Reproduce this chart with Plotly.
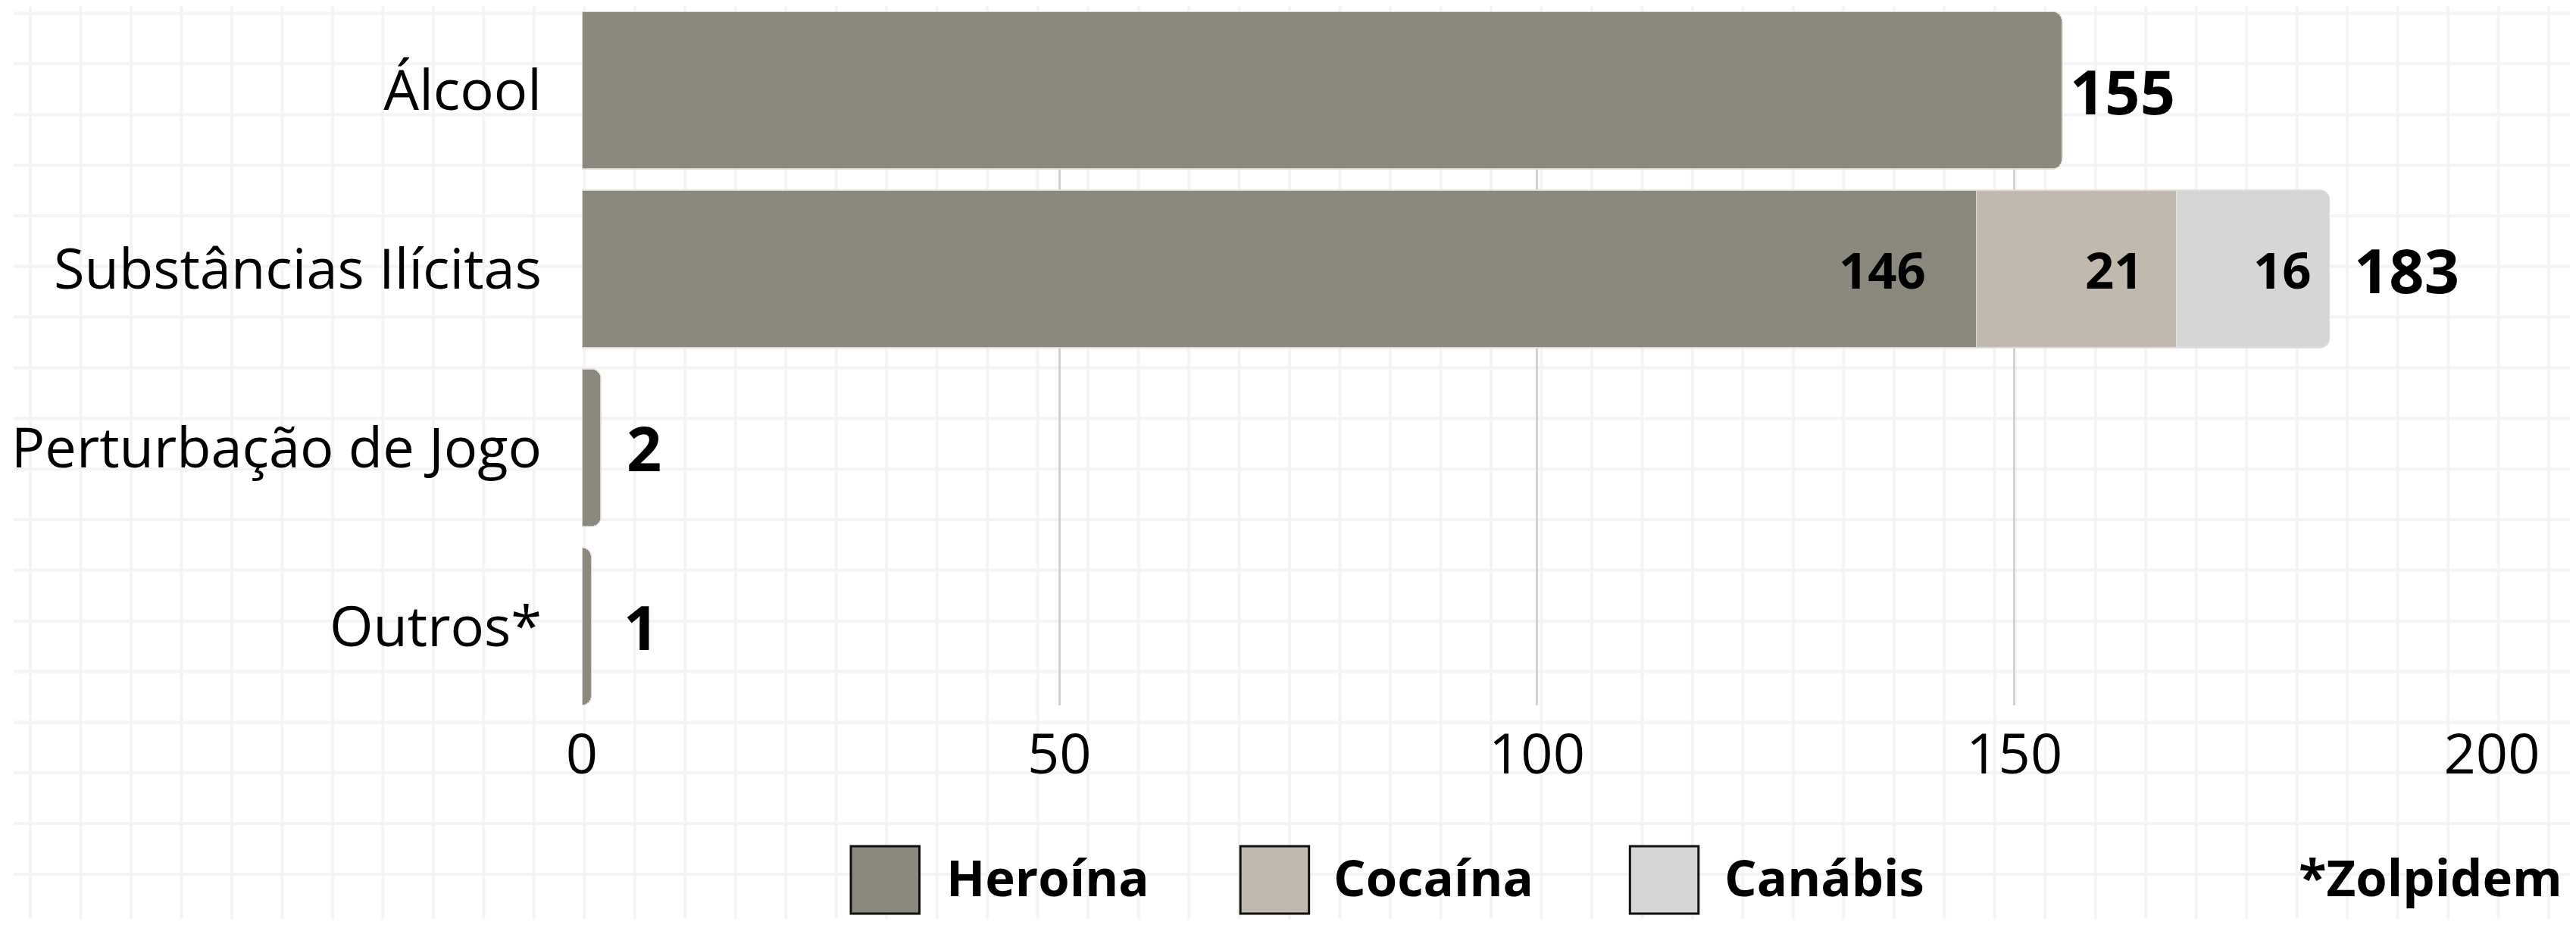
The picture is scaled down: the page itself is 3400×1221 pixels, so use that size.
import plotly.graph_objects as go

# ---------------- data ----------------
categories = ["Álcool", "Substâncias Ilícitas", "Perturbação de Jogo", "Outros*"]
heroina = [155, 146, 2, 1]        # first segment (dark)
cocaina = [None, 21, None, None]
canabis = [None, 16, None, None]
totals = [155, 183, 2, 1]
x_ticks = [0, 50, 100, 150, 200]
legend_names = ["Heroína", "Cocaína", "Canábis"]
footnote = "*Zolpidem"

# ---------------- styles ----------------
C_HER = "#8B897D"
C_COC = "#C1B9AE"
C_CAN = "#D6D6D6"
FONT = "Open Sans"
OFF = 8                      # browser body margin
W, H = 3400 - 2 * OFF, 1221 - 2 * OFF
L = 754 - OFF
T = 15 - OFF
R = W - (3289 - OFF)
B = H - (931 - OFF)
PW, PH = W - L - R, H - T - B

fig = go.Figure()
for name, vals, col in [("Heroína", heroina, C_HER), ("Cocaína", cocaina, C_COC), ("Canábis", canabis, C_CAN)]:
    fig.add_trace(go.Bar(
        y=categories, x=vals, orientation="h", name=name,
        marker=dict(color=col, line=dict(color="rgba(225,223,218,0.9)", width=1.5)),
        showlegend=False, hoverinfo="skip",
    ))

# segment labels inside the stacked bar
seg_vals = [heroina[1], cocaina[1], canabis[1]]
seg_shift = [-64, -42, -22]
cum = 0
for v, sh in zip(seg_vals, seg_shift):
    cum += v
    fig.add_annotation(x=cum, y=categories[1], text=f"<b>{v}</b>", showarrow=False,
                       xanchor="right", xshift=sh, yanchor="middle",
                       font=dict(family=FONT, size=67, color="#000"))

# totals outside
tot_shift = [8, 30, 32, 40]
for c, t, sh in zip(categories, totals, tot_shift):
    fig.add_annotation(x=t, y=c, text=f"<b>{t}</b>", showarrow=False,
                       xanchor="left", xshift=sh, yanchor="middle",
                       font=dict(family=FONT, size=81, color="#000"))

# ---------------- background paper grid (page pixel coords) ----------------
def px2x(px):
    return (px - OFF - L) / PW

def py2y(py):
    return 1 - (py - OFF - T) / PH

shapes = []
step = 66.85
k = 0
while 22 + k * step < 3400:
    xv = px2x(22 + k * step)
    shapes.append(dict(type="line", xref="paper", yref="paper", x0=xv, x1=xv,
                       y0=py2y(0), y1=py2y(1221), line=dict(color="#f4f4f4", width=4), layer="below"))
    k += 1
k = 0
while 17.5 + k * step < 1221:
    yv = py2y(17.5 + k * step)
    shapes.append(dict(type="line", xref="paper", yref="paper", x0=px2x(0), x1=px2x(3400),
                       y0=yv, y1=yv, line=dict(color="#f4f4f4", width=4), layer="below"))
    k += 1

# ---------------- manual legend ----------------
leg_box_x = [1111, 1628, 2145]
leg_text_x = [1236, 1750, 2268]
leg_colors = [C_HER, C_COC, C_CAN]
for name, col, bx, tx in zip(legend_names, leg_colors, leg_box_x, leg_text_x):
    shapes.append(dict(type="rect", xref="paper", yref="paper",
                       x0=px2x(bx), x1=px2x(bx + 91), y0=py2y(1117), y1=py2y(1206),
                       fillcolor=col, line=dict(color="#111", width=3), layer="above"))
    fig.add_annotation(xref="paper", yref="paper", x=px2x(tx), y=py2y(1157),
                       text=f"<b>{name}</b>", showarrow=False, xanchor="left", yanchor="middle",
                       font=dict(family=FONT, size=67, color="#000"))
fig.add_annotation(xref="paper", yref="paper", x=px2x(3385), y=py2y(1157),
                   text=f"<b>{footnote}</b>", showarrow=False, xanchor="right", yanchor="middle",
                   font=dict(family=FONT, size=67, color="#000"))

fig.update_layout(
    width=W, height=H,
    margin=dict(l=L, r=R, t=T, b=B, pad=0),
    barmode="stack", bargap=0.118, barcornerradius=13,
    paper_bgcolor="white", plot_bgcolor="rgba(0,0,0,0)",
    shapes=shapes, showlegend=False,
    font=dict(family=FONT, color="#000"),
)
fig.update_xaxes(range=[0, 200], tickvals=x_ticks, showgrid=True, gridcolor="#d2d2d2", gridwidth=3,
                 zeroline=False, showline=False, ticks="", ticklabelstandoff=15,
                 tickfont=dict(family=FONT, size=74, color="#000"))
fig.update_yaxes(categoryorder="array", categoryarray=categories, autorange=False,
                 range=[3.441, -0.441], showgrid=False, zeroline=False, showline=False,
                 ticks="", ticklabelstandoff=52,
                 tickfont=dict(family=FONT, size=74, color="#000"))

fig.write_html("out.html")
